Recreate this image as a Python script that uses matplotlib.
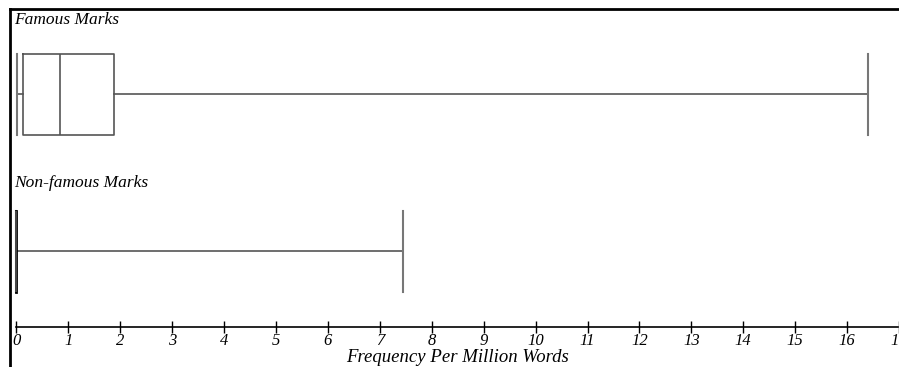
import matplotlib
matplotlib.use("Agg")
import matplotlib.pyplot as plt

# -------------------------------
# Data (frequency per million words)
# -------------------------------
groups = ["Famous Marks", "Non-famous Marks"]
mins = [0.01, 0.0]
q1s = [0.12, 0.0]
medians = [0.84, 0.0]
q3s = [1.87, 0.0]
maxs = [16.41, 7.45]
ticks = list(range(0, 18))

plt.rcParams["font.family"] = ["Liberation Serif", "DejaVu Serif"]
plt.rcParams["font.style"] = "italic"

W, H = 899, 367
fig = plt.figure(figsize=(W / 100, H / 100), dpi=100)

# axes covers the framed area; y is in pixel rows (top = 9, bottom = 367)
ax = fig.add_axes([10 / W, 0, (W - 10) / W, (H - 9) / H])
px_per_unit = 52.0
x0_px = 16.5
ax.set_xlim((10 - x0_px) / px_per_unit, (W - x0_px) / px_per_unit)
ax.set_ylim(H, 9)

stats = []
for g, lo, a, m, b, hi in zip(groups, mins, q1s, medians, q3s, maxs):
    stats.append(dict(label=g, whislo=lo, q1=a, med=m, q3=b, whishi=hi, fliers=[]))

line_col = "#555555"
ax.bxp(stats, positions=[94, 251], widths=81, capwidths=81, vert=False,
       showfliers=False, manage_ticks=False,
       boxprops=dict(color=line_col, linewidth=1.2),
       medianprops=dict(color=line_col, linewidth=1.2),
       whiskerprops=dict(color=line_col, linewidth=1.2),
       capprops=dict(color="#777777", linewidth=1.5))

# the collapsed box of the second group reads as a thick black bar
ax.plot([0, 0], [211, 292], color="black", linewidth=2)

# group labels
lab_x = (14 - x0_px) / px_per_unit
ax.text(lab_x, 20, groups[0], fontsize=12.5, va="center", ha="left")
ax.text(lab_x, 183, groups[1], fontsize=12.5, va="center", ha="left")

# frame: only top and left, bottom spine acts as the axis line
ax.spines["right"].set_visible(False)
ax.spines["top"].set_linewidth(2)
ax.spines["left"].set_linewidth(2)
ax.spines["bottom"].set_position(("data", 327))
ax.spines["bottom"].set_bounds(0, (W - x0_px) / px_per_unit)
ax.spines["bottom"].set_linewidth(1.2)

ax.set_xticks(ticks)
ax.set_xticklabels([str(t) for t in ticks], fontsize=12, style="italic")
ax.tick_params(axis="x", direction="inout", length=9, width=1, pad=0)
ax.set_yticks([])

fig.text(457 / W, 1 - 357 / H, "Frequency Per Million Words", fontsize=13.5,
         ha="center", va="center", style="italic")

fig.savefig("out.png", dpi=100)
